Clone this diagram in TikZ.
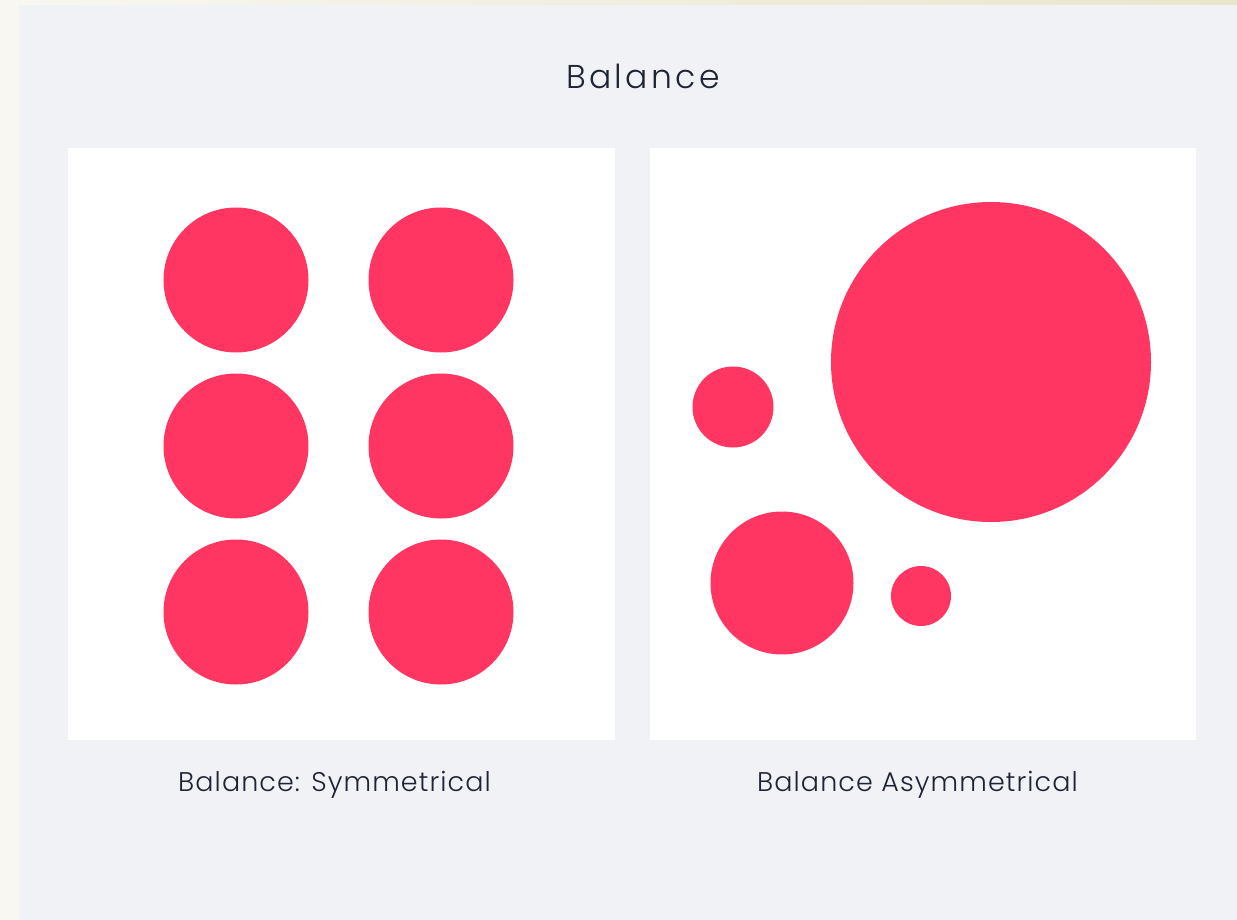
\documentclass[tikz,border=0pt]{standalone}
\usepackage{fontspec}
\setmainfont{Poppins}[UprightFont=* Light]
\newfontfamily\headfont{Poppins}[UprightFont=* Light,LetterSpace=10]
\newfontfamily\capfont{Poppins}[UprightFont=* Light,LetterSpace=4]
\definecolor{cream}{HTML}{F8F7F1}
\definecolor{creamdark}{HTML}{E9E6CB}
\definecolor{panelbg}{HTML}{F0F2F5}
\definecolor{dotred}{HTML}{FF3562}
\definecolor{ink}{HTML}{1E2433}
\begin{document}
\begin{tikzpicture}[x=1pt,y=-1pt,
  dot/.style={circle,fill=dotred,inner sep=0pt,minimum size=#1},
  card/.style={fill=white,draw=none},
  caption/.style={text=ink,font=\capfont\fontsize{27}{32}\selectfont,inner sep=0pt,anchor=base},
  heading/.style={text=ink,font=\headfont\fontsize{33}{40}\selectfont,inner sep=0pt,anchor=base}]
\useasboundingbox (0,0) rectangle (1237,920);
\fill[cream] (0,0) rectangle (1237,920);
\shade[left color=cream,right color=creamdark] (0,0) rectangle (1237,5);
\fill[panelbg] (19,5) rectangle (1237,920);
\fill[card] (68,148) rectangle (615,740);
\fill[card] (650,148) rectangle (1196,740);
\node[heading] (title) at (643,89) {Balance};
\node[caption] (capL) at (334.5,791) {Balance: Symmetrical};
\node[caption] (capR) at (917.5,791) {Balance Asymmetrical};
% symmetrical
\node[dot=145pt] (s11) at (236,280) {};
\node[dot=145pt] (s12) at (441,280) {};
\node[dot=145pt] (s21) at (236,446) {};
\node[dot=145pt] (s22) at (441,446) {};
\node[dot=145pt] (s31) at (236,612) {};
\node[dot=145pt] (s32) at (441,612) {};
% asymmetrical
\node[dot=81pt] (a1) at (733,407) {};
\node[dot=320pt] (a2) at (991,362) {};
\node[dot=143pt] (a3) at (782,583) {};
\node[dot=60pt] (a4) at (921,596) {};
\end{tikzpicture}
\end{document}
